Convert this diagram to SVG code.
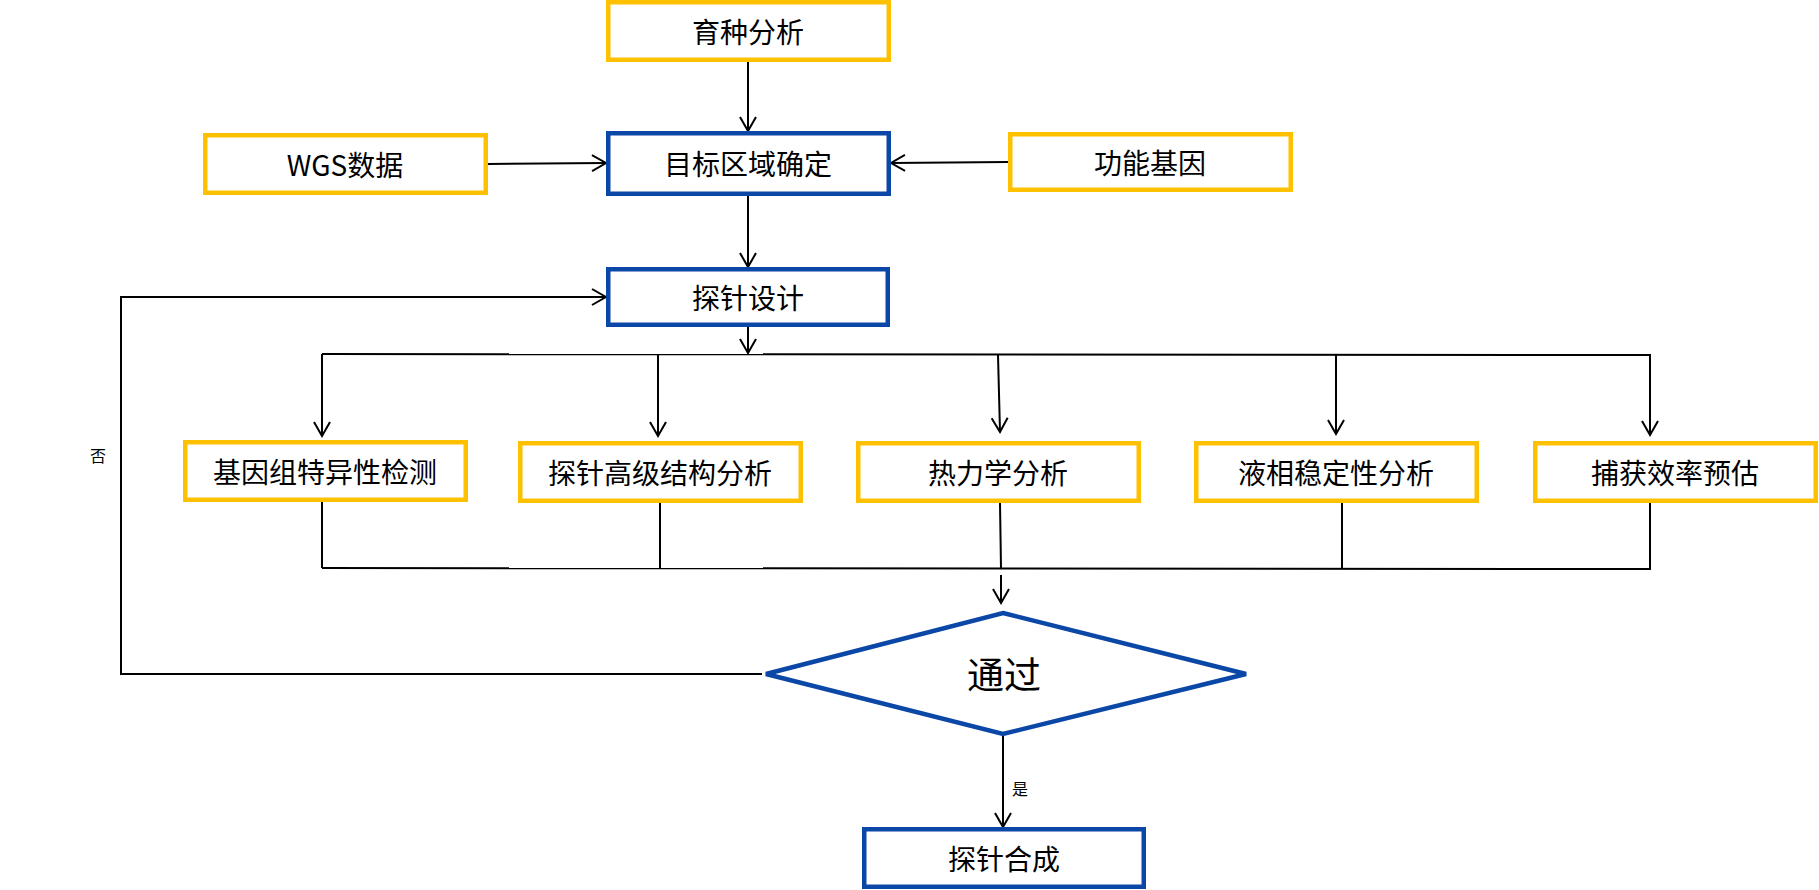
<svg xmlns="http://www.w3.org/2000/svg" width="1819" height="890" viewBox="0 0 1819 890">
<style>
.y{fill:#fff;stroke:#FFC000;stroke-width:4.5}
.b{fill:#fff;stroke:#0B47A6;stroke-width:4.5}
.t{font-family:"Noto Sans CJK SC","Noto Sans",sans-serif;font-size:28px;fill:#000;text-anchor:middle;dominant-baseline:central}
.c{fill:none;stroke:#000;stroke-width:2}
.s{font-family:"Noto Sans CJK SC","Noto Sans",sans-serif;font-size:16px;fill:#000;dominant-baseline:central}
</style>
<defs>
<marker id="a" markerUnits="userSpaceOnUse" viewBox="-16 -10 18 20" refX="0" refY="0" markerWidth="18" markerHeight="20" orient="auto">
<path d="M-14,-8 L0,0 L-14,8" fill="none" stroke="#000" stroke-width="2"/>
</marker>
</defs>
<rect width="1819" height="890" fill="#fff"/>
<g id="connectors">
<line class="c" x1="748" y1="62" x2="748" y2="131" marker-end="url(#a)"/>
<line class="c" x1="488" y1="164" x2="606" y2="163" marker-end="url(#a)"/>
<line class="c" x1="1008" y1="162" x2="891" y2="163" marker-end="url(#a)"/>
<line class="c" x1="748" y1="196" x2="748" y2="267" marker-end="url(#a)"/>
<line class="c" x1="748" y1="327" x2="748" y2="353" marker-end="url(#a)"/>
<line class="c" x1="322" y1="354" x2="1651" y2="355"/>
<line class="c" x1="322" y1="354" x2="322" y2="436" marker-end="url(#a)"/>
<line class="c" x1="658" y1="354" x2="658" y2="436" marker-end="url(#a)"/>
<line class="c" x1="998" y1="355" x2="1000" y2="432" marker-end="url(#a)"/>
<line class="c" x1="1336" y1="355" x2="1336" y2="434" marker-end="url(#a)"/>
<line class="c" x1="1650" y1="355" x2="1650" y2="435" marker-end="url(#a)"/>
<line class="c" x1="322" y1="502" x2="322" y2="568"/>
<line class="c" x1="660" y1="503" x2="660" y2="569"/>
<line class="c" x1="1000" y1="503" x2="1001" y2="568"/>
<line class="c" x1="1342" y1="503" x2="1342" y2="569"/>
<line class="c" x1="1650" y1="503" x2="1650" y2="569"/>
<line class="c" x1="322" y1="568" x2="1651" y2="569"/>
<line class="c" x1="1001" y1="575" x2="1001" y2="603" marker-end="url(#a)"/>
<polyline class="c" points="762,674 121,674 121,297 606,297" stroke-width="2.5" marker-end="url(#a)"/>
<line class="c" x1="1003" y1="736" x2="1003" y2="827" marker-end="url(#a)"/>
<text class="s" x="98" y="455" text-anchor="middle">否</text>
<text class="s" x="1012" y="788">是</text>
</g>
<g id="n1"><rect class="y" x="608.25" y="2.25" width="280.5" height="57.5"/><text class="t" x="748" y="31">育种分析</text></g>
<g id="n2"><rect class="y" x="205.25" y="135.25" width="280.5" height="57.5"/><text class="t" x="345" y="164">WGS数据</text></g>
<g id="n3"><rect class="b" x="608.25" y="133.25" width="280.5" height="60.5"/><text class="t" x="748" y="163">目标区域确定</text></g>
<g id="n4"><rect class="y" x="1010.25" y="134.25" width="280.5" height="55.5"/><text class="t" x="1150" y="162">功能基因</text></g>
<g id="n5"><rect class="b" x="608.25" y="269.25" width="279.5" height="55.5"/><text class="t" x="748" y="297">探针设计</text></g>
<g id="n6"><rect class="y" x="185.25" y="442.25" width="280.5" height="57.5"/><text class="t" x="325" y="471">基因组特异性检测</text></g>
<g id="n7"><rect class="y" x="520.25" y="443.25" width="280.5" height="57.5"/><text class="t" x="660" y="472">探针高级结构分析</text></g>
<g id="n8"><rect class="y" x="858.25" y="443.25" width="280.5" height="57.5"/><text class="t" x="998" y="472">热力学分析</text></g>
<g id="n9"><rect class="y" x="1196.25" y="443.25" width="280.5" height="57.5"/><text class="t" x="1336" y="472">液相稳定性分析</text></g>
<g id="n10"><rect class="y" x="1535.25" y="443.25" width="280.5" height="57.5"/><text class="t" x="1675" y="472">捕获效率预估</text></g>
<g id="n11"><polygon class="b" points="1003,613 1246,674 1003,734 766,674"/><text class="t" x="1004" y="673" style="font-size:37px">通过</text></g>
<g id="n12"><rect class="b" x="864.25" y="829.25" width="279.5" height="57.5"/><text class="t" x="1004" y="858">探针合成</text></g>
</svg>
